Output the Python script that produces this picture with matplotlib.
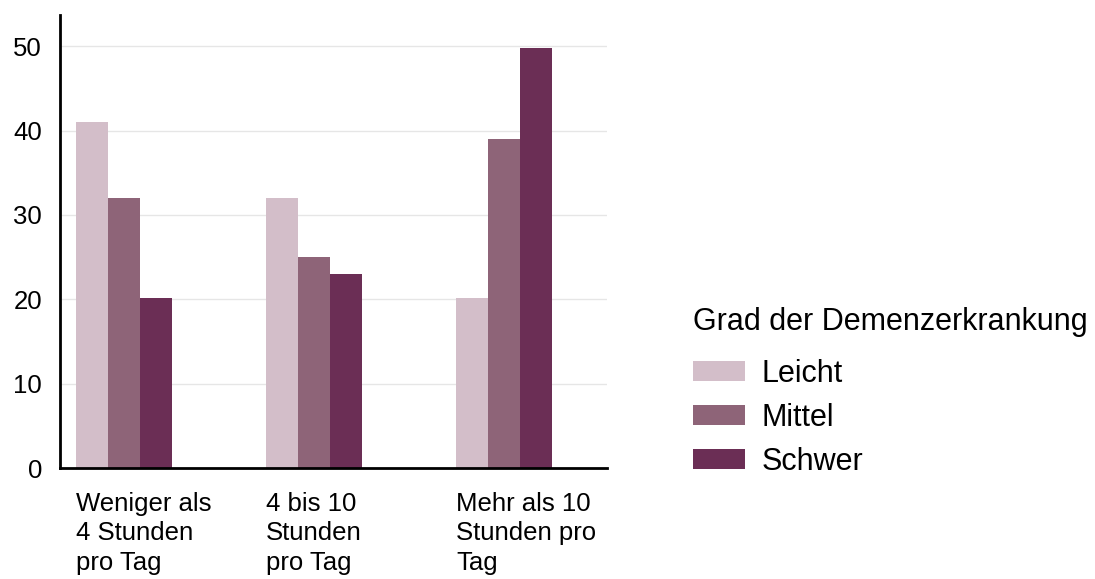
import matplotlib
matplotlib.use("Agg")
import matplotlib.pyplot as plt
import numpy as np

plt.rcParams['font.family'] = ['Liberation Sans', 'DejaVu Sans']

categories = ["Weniger als\n4 Stunden\npro Tag", "4 bis 10\nStunden\npro Tag", "Mehr als 10\nStunden pro\nTag"]
series_names = ["Leicht", "Mittel", "Schwer"]
leicht = [41, 32, 20.2]
mittel = [32, 25, 39]
schwer = [20.2, 23, 49.8]
colors = ["#d3bec9", "#8e6478", "#6b2e55"]
yticks = [0, 10, 20, 30, 40, 50]
legend_title = "Grad der Demenzerkrankung"

fig = plt.figure(figsize=(10.95, 5.79), dpi=100)
ax = fig.add_axes([60/1095, 111/579, (607-60)/1095, (468-15)/579])

x = np.arange(len(categories))
w = 0.168
for i, (vals, name, c) in enumerate(zip([leicht, mittel, schwer], series_names, colors)):
    ax.bar(x + (i - 1) * w, vals, width=w, color=c, label=name, zorder=2)

ax.set_xlim(-0.337, 2.54)
ax.set_ylim(0, 53.7)
ax.set_yticks(yticks)
ax.set_yticklabels([str(v) for v in yticks], fontsize=18.5)
ax.yaxis.grid(True, color="#e6e6e6", linewidth=1, zorder=0)
ax.set_axisbelow(True)
ax.tick_params(axis='both', length=0)
ax.tick_params(axis='y', pad=13)
for s in ['top', 'right']:
    ax.spines[s].set_visible(False)
for s in ['left', 'bottom']:
    ax.spines[s].set_linewidth(2)
    ax.spines[s].set_color('black')

ax.set_xticks(x - 1.5 * w)
ax.set_xticklabels(categories, fontsize=18.5, ha='left', va='top', linespacing=1.3)
ax.tick_params(axis='x', pad=17)

fig.text(693/1095, 1 - 322/579, legend_title, fontsize=22, ha='left', va='center')
leg = ax.legend(loc='upper left',
                bbox_to_anchor=(693/1095, 1 - 359/579), bbox_transform=fig.transFigure,
                frameon=False, fontsize=22,
                borderpad=0, borderaxespad=0,
                handlelength=1.7, handleheight=0.65, labelspacing=0.45, handletextpad=0.55)

fig.savefig("out.png", dpi=100)
